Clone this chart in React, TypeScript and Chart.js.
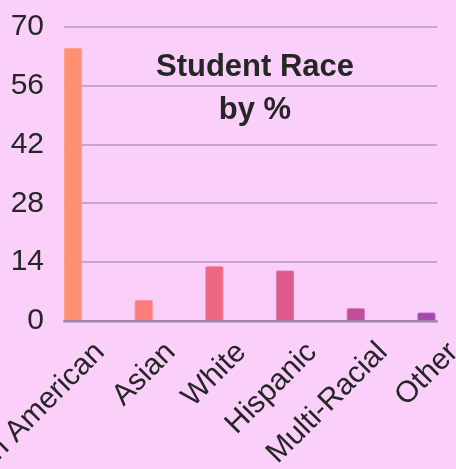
import React, { useEffect, useRef } from "react";
import { Chart, registerables } from "chart.js";

Chart.register(...registerables);

const categories = ["African American", "Asian", "White", "Hispanic", "Multi-Racial", "Other"];
const percentages = [65, 5, 13, 12, 3, 2];
const barColors = ["#ff9170", "#fb7e78", "#ee6882", "#dc5a8c", "#c24e9a", "#a34aa8"];
const yTickValues = [0, 14, 28, 42, 56, 70];
const titleLines = ["Student Race", "by %"];

const BG = "#facffa";
const FONT = "'Liberation Sans', Arial, sans-serif";

export default function App() {
  const ref = useRef<HTMLCanvasElement | null>(null);

  useEffect(() => {
    if (!ref.current) return;
    const titlePlugin = {
      id: "innerTitle",
      afterDatasetsDraw(chart: any) {
        const ctx = chart.ctx;
        ctx.save();
        ctx.font = `bold 31px ${FONT}`;
        ctx.fillStyle = "#262626";
        ctx.textAlign = "center";
        ctx.textBaseline = "alphabetic";
        const cx = 255;
        titleLines.forEach((t, i) => ctx.fillText(t, cx, 76 + i * 43));
        ctx.restore();
      },
    };
    const chart = new Chart(ref.current, {
      type: "bar",
      data: {
        datasets: [
          {
            data: percentages.map((v, i) => ({ x: i, y: v })),
            backgroundColor: barColors,
            borderColor: barColors.map((c) => c + "99"),
            borderWidth: 1,
            borderRadius: 2,
            borderSkipped: "bottom",
            barThickness: 18,
          },
        ],
      },
      options: {
        animation: false,
        responsive: false,
        layout: { padding: { top: 27, right: 19, bottom: 0, left: 0 } },
        plugins: { legend: { display: false }, tooltip: { enabled: false }, title: { display: false } },
        scales: {
          x: {
            type: "linear",
            offset: false,
            min: -0.127,
            max: 5.149,
            afterBuildTicks: (s: any) => {
              s.ticks = categories.map((_, i) => ({ value: i }));
            },
            afterFit: (s: any) => {
              s.paddingLeft = 0;
              s.paddingRight = 0;
              s.height = 148;
            },
            ticks: {
              autoSkip: false,
              minRotation: 45,
              maxRotation: 45,
              padding: 14,
              labelOffset: 27,
              color: "#262626",
              font: { size: 30, family: FONT },
              callback: (v: any) => categories[v] ?? "",
            },
            grid: { display: false, drawTicks: false },
            border: { display: true, color: "rgba(0,0,0,0.2)", width: 3 },
          },
          y: {
            min: 0,
            max: 70,
            afterBuildTicks: (s: any) => {
              s.ticks = yTickValues.map((v) => ({ value: v }));
            },
            afterFit: (s: any) => {
              s.width = 64;
              s.paddingTop = 0;
              s.paddingBottom = 0;
            },
            ticks: {
              padding: 20,
              color: "#262626",
              font: { size: 30, family: FONT },
            },
            grid: { color: "rgba(0,0,0,0.2)", lineWidth: 2, drawTicks: false },
            border: { display: false },
          },
        },
      },
      plugins: [titlePlugin],
    });
    return () => chart.destroy();
  }, []);

  return (
    <div style={{ position: "absolute", left: 0, top: 0, width: 456, height: 469, background: BG, overflow: "hidden" }}>
      <canvas ref={ref} width={456} height={469} style={{ display: "block" }} />
    </div>
  );
}
